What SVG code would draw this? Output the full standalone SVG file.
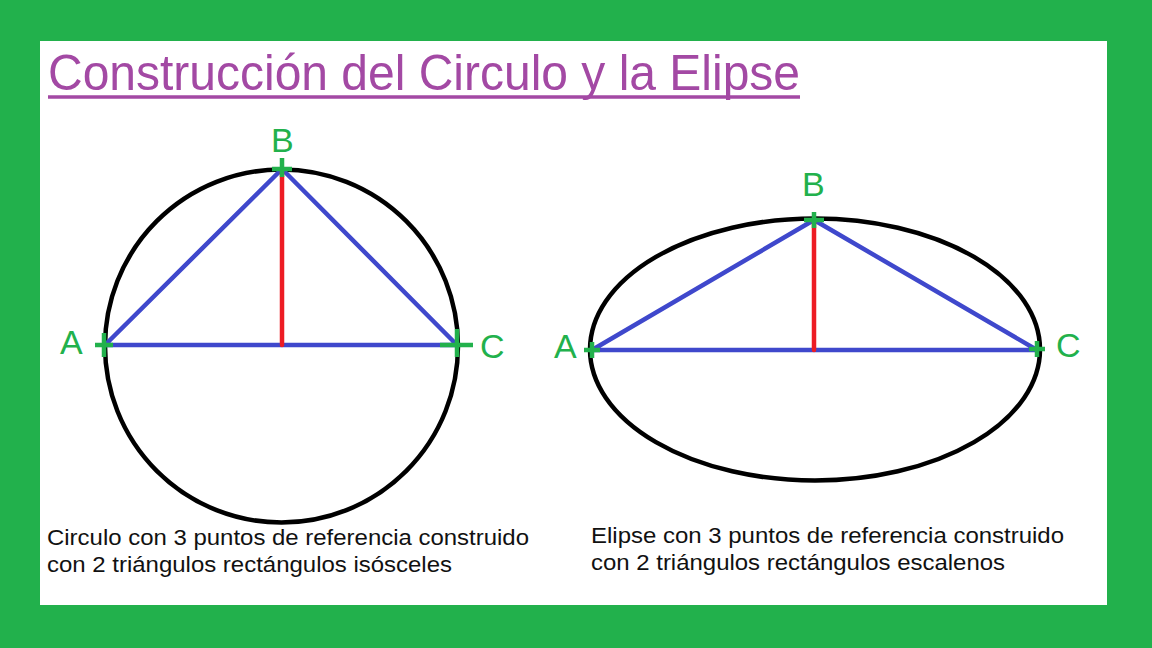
<svg xmlns="http://www.w3.org/2000/svg" width="1152" height="648" viewBox="0 0 1152 648">
<style>
.curve{fill:none;stroke:#000;stroke-width:4.5}
.blue{stroke:#3f48cc;stroke-width:4.5;fill:none;stroke-linecap:round;stroke-linejoin:round}
.red{stroke:#ed1c24;stroke-width:4.5;stroke-linecap:round}
.plus{stroke:#22b14c;stroke-width:4.5;fill:none}
.lbl{font-family:"Liberation Sans",Arial,sans-serif;font-size:34px;fill:#22b14c}
.cap{font-family:"Liberation Sans",Arial,sans-serif;font-size:22px;fill:#111}
</style>
<rect width="1152" height="648" fill="#22b14c"/>
<rect x="40" y="41" width="1067" height="564" fill="#fff"/>
<g id="title">
<text x="48" y="90" font-family="'Liberation Sans',Arial,sans-serif" font-size="50" fill="#a349a4" textLength="752" lengthAdjust="spacingAndGlyphs">Construcción del Circulo y la Elipse</text>
<line x1="48" y1="97" x2="800" y2="97" stroke="#a349a4" stroke-width="3.5"/>
</g>
<g id="circle-figure">
<circle class="curve" cx="281.5" cy="346" r="176.5"/>
<path class="blue" d="M105 345 L282 169 L457 345 Z"/>
<line class="red" x1="282" y1="172" x2="282" y2="345"/>
<path class="plus" d="M95 345 H113 M104 333 V357"/>
<path class="plus" d="M440 345 H473 M457 329 V357"/>
<path class="plus" d="M272 169 H292 M282 158 V177"/>
<text class="lbl" x="60" y="354">A</text>
<text class="lbl" x="271" y="152">B</text>
<text class="lbl" x="480" y="358">C</text>
</g>
<g id="ellipse-figure">
<ellipse class="curve" cx="815" cy="349.5" rx="225" ry="131"/>
<path class="blue" d="M592 350 L814 220 L1037 350 Z"/>
<line class="red" x1="814" y1="222" x2="814" y2="350"/>
<path class="plus" d="M584 350 H600 M592 342 V358"/>
<path class="plus" d="M1029 349 H1045 M1037 341 V357"/>
<path class="plus" d="M804 220 H824 M814 212 V228"/>
<text class="lbl" x="554" y="358">A</text>
<text class="lbl" x="802" y="196">B</text>
<text class="lbl" x="1056" y="357">C</text>
</g>
<g id="captions">
<text class="cap" x="47" y="545" textLength="482" lengthAdjust="spacingAndGlyphs">Circulo con 3 puntos de referencia construido</text>
<text class="cap" x="47" y="572" textLength="405" lengthAdjust="spacingAndGlyphs">con 2 triángulos rectángulos isósceles</text>
<text class="cap" x="591" y="543" textLength="473" lengthAdjust="spacingAndGlyphs">Elipse con 3 puntos de referencia construido</text>
<text class="cap" x="591" y="570" textLength="414" lengthAdjust="spacingAndGlyphs">con 2 triángulos rectángulos escalenos</text>
</g>
</svg>
